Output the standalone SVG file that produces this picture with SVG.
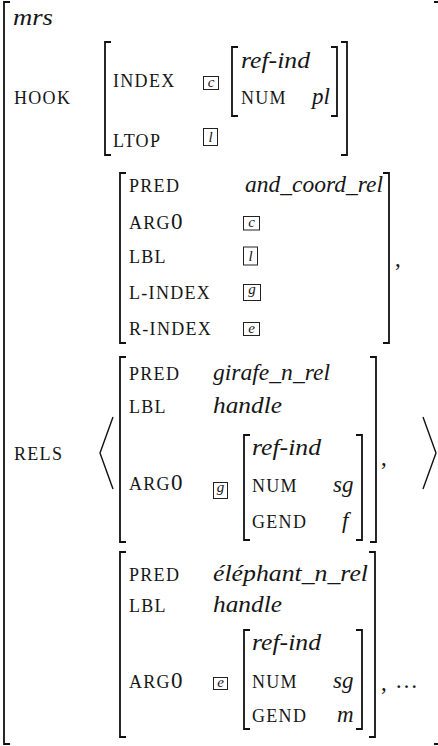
<svg xmlns="http://www.w3.org/2000/svg" width="438" height="746" viewBox="0 0 438 746">
  <style>
    text { font-family: "Liberation Serif", "Times New Roman", serif; fill: #161616; }
    .br { fill: none; stroke: #111; stroke-width: 1.8; stroke-linecap: butt; }
    .ang { fill: none; stroke: #111; stroke-width: 1.4; }
    .tagbox { fill: none; stroke: #222; stroke-width: 1; }
    .sc { font-size: 18px; letter-spacing: 1.3px; }
    .dig { font-size: 23px; letter-spacing: 0; }
    .it { font-style: italic; font-size: 23px; }
    .tag { font-style: italic; font-size: 15px; text-anchor: middle; }
    .pun { font-size: 23px; }
  </style>

  <!-- outer mrs structure -->
  <g id="mrs">
    <path class="br" d="M10,2 H4 V744 H10"/>
    <path class="br" d="M434,2 H440 V744 H434"/>
    <text class="it" x="13" y="25" textLength="40" lengthAdjust="spacingAndGlyphs">mrs</text>
    <text class="sc" x="14" y="104">HOOK</text>
    <text class="sc" x="14" y="460">RELS</text>
  </g>

  <!-- HOOK value -->
  <g id="hook">
    <path class="br" d="M111,42 H105 V155 H111"/>
    <path class="br" d="M341,42 H347 V155 H341"/>
    <text class="sc" x="113" y="87">INDEX</text>
    <text class="sc" x="113" y="147">LTOP</text>
    <rect class="tagbox" x="203.5" y="76.5" width="15" height="13"/>
    <text class="tag" x="211" y="87">c</text>
    <rect class="tagbox" x="203.5" y="128.5" width="14" height="17"/>
    <text class="tag" x="210.5" y="142">l</text>
    <g id="hook-index">
      <path class="br" d="M238,47 H232 V116 H238"/>
      <path class="br" d="M331,47 H337 V116 H331"/>
      <text class="it" x="241" y="68" textLength="69" lengthAdjust="spacingAndGlyphs">ref-ind</text>
      <text class="sc" x="241" y="104">NUM</text>
      <text class="it" x="312" y="104">pl</text>
    </g>
  </g>

  <!-- RELS list delimiters -->
  <g id="rels-list">
    <path class="ang" d="M113,417 L100,453 L113,489"/>
    <path class="ang" d="M423,417 L436,453 L423,489"/>
  </g>

  <!-- and_coord_rel -->
  <g id="rel-and">
    <path class="br" d="M126,173 H120 V343 H126"/>
    <path class="br" d="M383,173 H389 V343 H383"/>
    <text class="sc" x="129" y="192">PRED</text>
    <text x="129" y="229"><tspan class="sc">ARG</tspan><tspan class="dig">0</tspan></text>
    <text class="sc" x="129" y="263">LBL</text>
    <text class="sc" x="129" y="299">L-INDEX</text>
    <text class="sc" x="129" y="335">R-INDEX</text>
    <text class="it" x="245" y="192" textLength="138" lengthAdjust="spacingAndGlyphs">and_coord_rel</text>
    <rect class="tagbox" x="243.5" y="216.5" width="16" height="13.5"/>
    <text class="tag" x="251.5" y="227">c</text>
    <rect class="tagbox" x="243.5" y="247" width="14" height="18"/>
    <text class="tag" x="250.5" y="261">l</text>
    <rect class="tagbox" x="243.5" y="284.5" width="17" height="16"/>
    <text class="tag" x="252" y="294">g</text>
    <rect class="tagbox" x="243.5" y="322.5" width="16" height="13"/>
    <text class="tag" x="251.5" y="333">e</text>
    <text class="pun" x="395" y="266">,</text>
  </g>

  <!-- girafe_n_rel -->
  <g id="rel-girafe">
    <path class="br" d="M126,357 H120 V542 H126"/>
    <path class="br" d="M370,357 H376 V542 H370"/>
    <text class="sc" x="129" y="380">PRED</text>
    <text class="sc" x="129" y="413">LBL</text>
    <text x="129" y="490"><tspan class="sc">ARG</tspan><tspan class="dig">0</tspan></text>
    <text class="it" x="213" y="380" textLength="117" lengthAdjust="spacingAndGlyphs">girafe_n_rel</text>
    <text class="it" x="213" y="413" textLength="69" lengthAdjust="spacingAndGlyphs">handle</text>
    <rect class="tagbox" x="213.5" y="482.5" width="14" height="16"/>
    <text class="tag" x="220.5" y="492">g</text>
    <g id="girafe-arg0">
      <path class="br" d="M250,435 H244 V540 H250"/>
      <path class="br" d="M356,435 H362 V540 H356"/>
      <text class="it" x="252" y="455" textLength="69" lengthAdjust="spacingAndGlyphs">ref-ind</text>
      <text class="sc" x="252" y="492">NUM</text>
      <text class="it" x="333" y="492">sg</text>
      <text class="sc" x="252" y="528">GEND</text>
      <text class="it" x="342" y="528">f</text>
    </g>
    <text class="pun" x="381" y="465">,</text>
  </g>

  <!-- éléphant_n_rel -->
  <g id="rel-elephant">
    <path class="br" d="M126,552 H120 V737 H126"/>
    <path class="br" d="M369,552 H375 V737 H369"/>
    <text class="sc" x="129" y="581">PRED</text>
    <text class="sc" x="129" y="612">LBL</text>
    <text x="129" y="688"><tspan class="sc">ARG</tspan><tspan class="dig">0</tspan></text>
    <text class="it" x="213" y="581" textLength="155" lengthAdjust="spacingAndGlyphs">éléphant_n_rel</text>
    <text class="it" x="213" y="612" textLength="69" lengthAdjust="spacingAndGlyphs">handle</text>
    <rect class="tagbox" x="213.5" y="677.5" width="14" height="12"/>
    <text class="tag" x="220.5" y="687">e</text>
    <g id="elephant-arg0">
      <path class="br" d="M250,630 H244 V729 H250"/>
      <path class="br" d="M356,630 H362 V729 H356"/>
      <text class="it" x="252" y="650" textLength="69" lengthAdjust="spacingAndGlyphs">ref-ind</text>
      <text class="sc" x="252" y="688">NUM</text>
      <text class="it" x="333" y="688">sg</text>
      <text class="sc" x="252" y="722">GEND</text>
      <text class="it" x="337" y="722">m</text>
    </g>
    <text class="pun" x="381" y="690">,</text>
    <text class="pun" x="395" y="688" textLength="21" lengthAdjust="spacing">…</text>
  </g>
</svg>
